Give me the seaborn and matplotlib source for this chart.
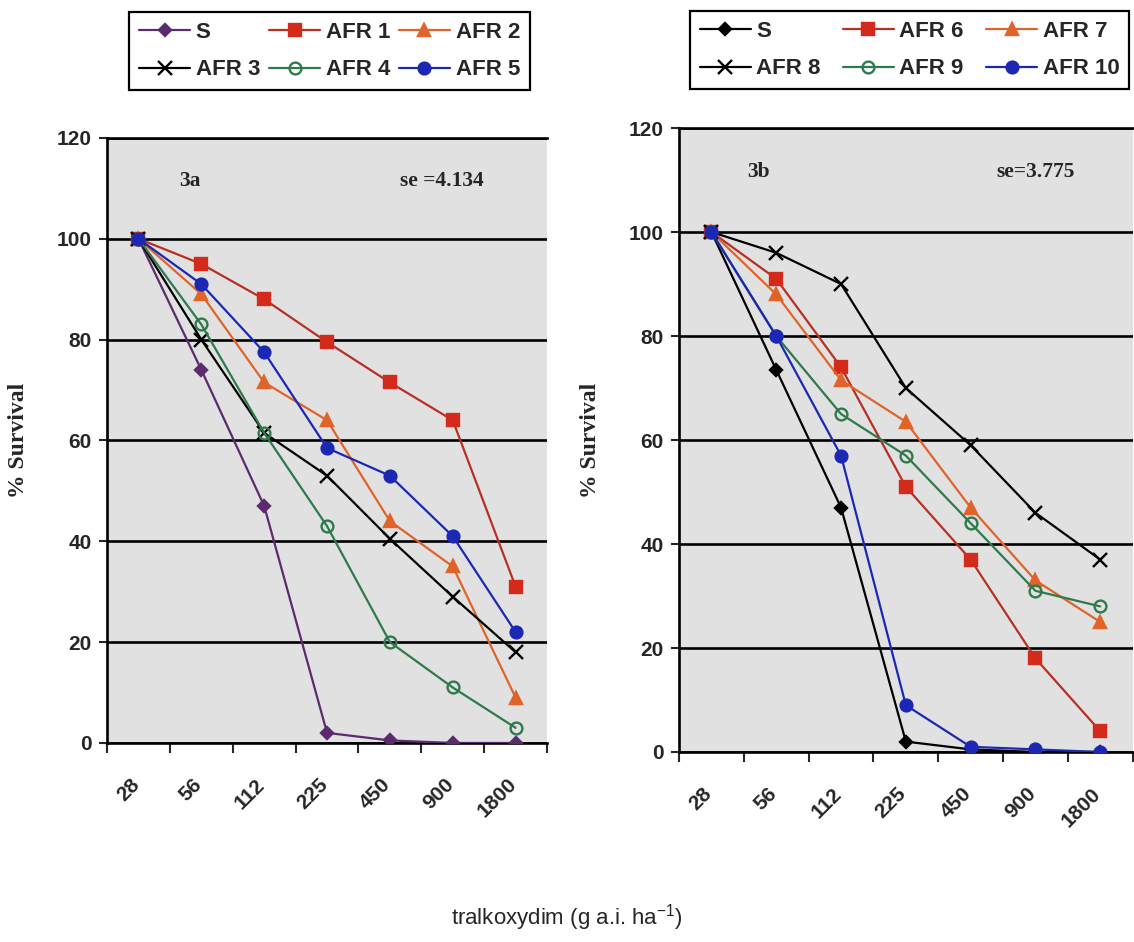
import matplotlib
matplotlib.use('agg')
import matplotlib.pyplot as plt
import numpy as np
import seaborn as sns

doses = ["28", "56", "112", "225", "450", "900", "1800"]

# panel 3a
names_a = ["S", "AFR 1", "AFR 2", "AFR 3", "AFR 4", "AFR 5"]
s_a = [100, 74, 47, 2, 0.5, 0, 0]
afr1 = [100, 95, 88, 79.5, 71.5, 64, 31]
afr2 = [100, 89, 71.5, 64, 44, 35, 9]
afr3 = [100, 80, 61.5, 53, 40.5, 29, 18]
afr4 = [100, 83, 61.5, 43, 20, 11, 3]
afr5 = [100, 91, 77.5, 58.5, 53, 41, 22]

# panel 3b
names_b = ["S", "AFR 6", "AFR 7", "AFR 8", "AFR 9", "AFR 10"]
s_b = [100, 73.5, 47, 2, 0.5, 0, 0]
afr6 = [100, 91, 74, 51, 37, 18, 4]
afr7 = [100, 88, 71.5, 63.5, 47, 33, 25]
afr8 = [100, 96, 90, 70, 59, 46, 37]
afr9 = [100, 80, 65, 57, 44, 31, 28]
afr10 = [100, 80, 57, 9, 1, 0.5, 0]

sns.set_style("white")
plt.rcParams['font.family'] = ['Liberation Sans', 'DejaVu Sans']

purple = "#5c2a6e"
orange = "#e0642a"
green = "#2f7a4c"
blue = "#1c28b4"

# (line colour, marker, marker face, marker edge, marker size)
styles_a = [(purple, "D", purple, purple, 6.5),
            ("#b83024", "s", "#d42a1c", "#d42a1c", 8.5),
            (orange, "^", orange, orange, 9),
            ("black", "x", "black", "black", 10),
            (green, "o", "none", green, 8.5),
            (blue, "o", blue, blue, 8.5)]
styles_b = [("black", "D", "black", "black", 6.5),
            ("#b83024", "s", "#d42a1c", "#d42a1c", 8.5),
            (orange, "^", orange, orange, 9),
            ("black", "x", "black", "black", 10),
            (green, "o", "none", green, 8.5),
            (blue, "o", blue, blue, 8.5)]

fig = plt.figure(figsize=(11.34, 9.42), dpi=100)
ax1 = fig.add_axes([0.0944, 0.2113, 0.388, 0.6423])
ax2 = fig.add_axes([0.5988, 0.2017, 0.400, 0.6624])

pos = np.arange(len(doses))


def draw_panel(ax, series, names, styles, tag, tag_x, se, se_x):
    ax.set_facecolor("#e1e1e1")
    for vals, name, (lc, m, fc, ec, ms) in zip(series, names, styles):
        sns.lineplot(x=pos, y=vals, ax=ax, color=lc, marker=m, markersize=ms,
                     markerfacecolor=fc, markeredgecolor=ec, markeredgewidth=1.7,
                     linewidth=1.6, label=name, legend=False, zorder=3)
    ax.set_xlim(-0.5, 6.5)
    ax.set_ylim(0, 120)
    ax.set_yticks(range(0, 121, 20))
    ax.yaxis.grid(True, color="black", linewidth=1.9)
    ax.set_axisbelow(True)
    ax.tick_params(axis="y", labelsize=15, length=6, width=1.5, direction="out",
                   left=True, pad=5)
    for t in ax.get_yticklabels():
        t.set_fontweight("bold")
    # tick marks between categories, labels shifted like the original
    ax.set_xticks(np.arange(8) - 0.5, minor=True)
    ax.set_xticks(pos - 0.14)
    ax.set_xticklabels(doses, rotation=45, ha="right", rotation_mode="anchor",
                       fontsize=15, fontweight="bold")
    ax.tick_params(axis="x", which="major", length=0, pad=23)
    ax.tick_params(axis="x", which="minor", length=7, width=1.5, direction="out",
                   bottom=True)
    for side in ["left", "bottom", "top"]:
        ax.spines[side].set_color("black")
        ax.spines[side].set_linewidth(1.9)
    ax.spines["right"].set_visible(False)
    ax.set_xlabel("")
    ax.set_ylabel("% Survival", family="Liberation Serif", fontweight="bold",
                  fontsize=17, labelpad=20)
    ax.text(tag_x, 111.5, tag, family="Liberation Serif", fontweight="bold",
            fontsize=15.5, ha="center", va="center")
    ax.text(se_x, 111.5, se, family="Liberation Serif", fontweight="bold",
            fontsize=15.5, ha="center", va="center")


draw_panel(ax1, [s_a, afr1, afr2, afr3, afr4, afr5], names_a, styles_a,
           "3a", 0.82, "se =4.134", 4.83)
draw_panel(ax2, [s_b, afr6, afr7, afr8, afr9, afr10], names_b, styles_b,
           "3b", 0.72, "se=3.775", 5.0)


def top_legend(ax, cx, cy, colsp):
    h, l = ax.get_legend_handles_labels()
    order = [0, 3, 1, 4, 2, 5]
    leg = fig.legend([h[i] for i in order], [l[i] for i in order], ncol=3,
                     loc="center", bbox_to_anchor=(cx, cy), frameon=True,
                     fancybox=False, edgecolor="black", framealpha=1,
                     prop={"weight": "bold", "size": 16}, handlelength=2.3,
                     columnspacing=colsp, handletextpad=0.25, labelspacing=0.75,
                     borderpad=0.45)
    leg.get_frame().set_linewidth(1.6)


top_legend(ax1, 329.5 / 1134, 1 - 51 / 942, 0.4)
top_legend(ax2, 909.5 / 1134, 1 - 50 / 942, 1.0)

fig.text(0.5, 1 - 918 / 942, "tralkoxydim (g a.i. ha$^{\\mathregular{-1}}$)",
         ha="center", va="center", fontsize=16)

fig.savefig("out.png", dpi=100)
